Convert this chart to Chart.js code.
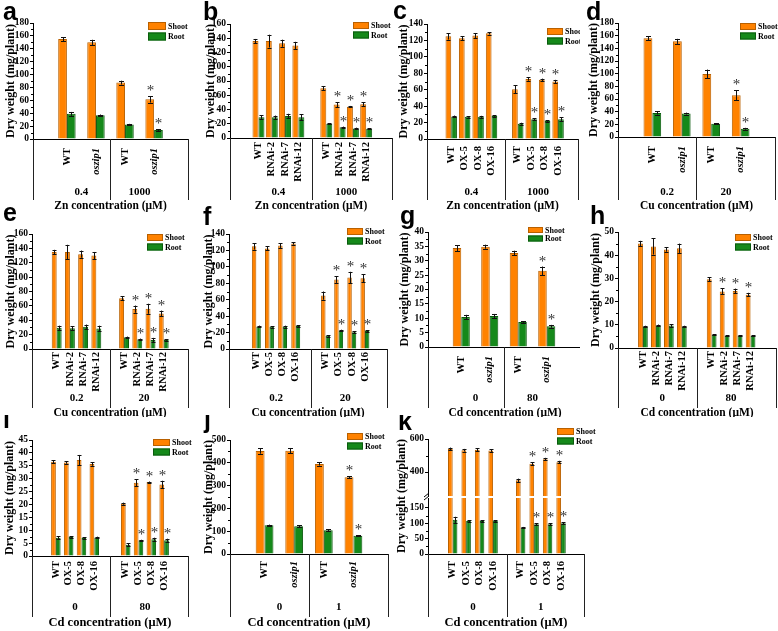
<!DOCTYPE html>
<html>
<head>
<meta charset="utf-8">
<script src="https://cdn.jsdelivr.net/npm/chart.js@4.4.1/dist/chart.umd.min.js"></script>
<style>
  body { margin: 0; background: #fff; width: 778px; height: 631px; position: relative; overflow: hidden; }
  canvas { position: absolute; }
</style>
</head>
<body>
<script>
const SERIF = '"Liberation Serif", "Times New Roman", serif';
const SANS = '"Liberation Sans", Arial, sans-serif';
const SHOOT_FILL = '#ff8200';
const SHOOT_EDGE = '#b86000';
const ROOT_FILL = '#15891a';
const ROOT_EDGE = '#0b5a0e';

// x labels
const zipLabels = ['WT', 'oszip1', 'WT', 'oszip1'];
const rnaiLabels = ['WT', 'RNAi-2', 'RNAi-7', 'RNAi-12', 'WT', 'RNAi-2', 'RNAi-7', 'RNAi-12'];
const oxLabels = ['WT', 'OX-5', 'OX-8', 'OX-16', 'WT', 'OX-5', 'OX-8', 'OX-16'];

// a - Zn, oszip1
const aGroups = ['0.4', '1000'];
const aShoot = [155, 150, 87.5, 61.5];
const aShootErr = [3, 4, 3, 5];
const aRoot = [39, 37, 22.5, 14];
const aRootErr = [3, 1, 1, 1.5];
const aShootSig = [0, 0, 0, 1];
const aRootSig = [0, 0, 0, 1];

// b - Zn, RNAi
const bGroups = ['0.4', '1000'];
const bShoot = [136, 136, 133, 130, 70, 47, 44, 47.5];
const bShootErr = [3, 9, 5, 5, 3, 3.5, 1, 2.5];
const bRoot = [29, 29, 31, 29, 20, 15, 13.5, 13];
const bRootErr = [3, 2.5, 3, 4, 1, 1, 1, 1];
const bShootSig = [0, 0, 0, 0, 0, 1, 1, 1];
const bRootSig = [0, 0, 0, 0, 0, 1, 1, 1];

// c - Zn, OX
const cGroups = ['0.4', '1000'];
const cShoot = [125, 122.6, 126, 128.7, 60.7, 73, 72, 70];
const cShootErr = [4, 2.5, 3, 1.5, 5, 2, 1.5, 2];
const cRoot = [27.5, 27, 27, 28, 18.6, 24, 22, 24];
const cRootErr = [1, 1, 1.2, 1, 1.2, 1, 1, 2.5];
const cShootSig = [0, 0, 0, 0, 0, 1, 1, 1];
const cRootSig = [0, 0, 0, 0, 0, 1, 1, 1];

// d - Cu, oszip1
const dGroups = ['0.2', '20'];
const dShoot = [156, 151, 99.5, 66];
const dShootErr = [3, 4, 7, 8];
const dRoot = [38, 37, 21, 13];
const dRootErr = [2.5, 1.5, 1, 1.5];
const dShootSig = [0, 0, 0, 1];
const dRootSig = [0, 0, 0, 1];

// e - Cu, RNAi
const eGroups = ['0.2', '20'];
const eShoot = [135, 135, 132, 130, 70.5, 55.5, 56, 49.5];
const eShootErr = [3, 10, 5, 5, 3, 5, 7, 4];
const eRoot = [29.5, 29, 31, 28.5, 16.3, 13.5, 12.5, 12.5];
const eRootErr = [3, 3, 3, 4, 1, 1, 3, 1];
const eShootSig = [0, 0, 0, 0, 0, 1, 1, 1];
const eRootSig = [0, 0, 0, 0, 0, 1, 1, 1];

// f - Cu, OX
const fGroups = ['0.2', '20'];
const fShoot = [125, 122.5, 126, 128.5, 65, 84.5, 87, 86];
const fShootErr = [4, 2.5, 3, 1.5, 5, 4, 7, 5];
const fRoot = [27.5, 27, 27.2, 28, 16, 22.5, 20.5, 21.8];
const fRootErr = [1, 1, 1.2, 1, 1, 1, 1, 1];
const fShootSig = [0, 0, 0, 0, 0, 1, 1, 1];
const fRootSig = [0, 0, 0, 0, 0, 1, 1, 1];

// g - Cd, oszip1
const gGroups = ['0', '80'];
const gShoot = [34.4, 34.9, 32.7, 26.5];
const gShootErr = [1, 0.7, 0.8, 1.5];
const gRoot = [10.4, 10.8, 8.7, 7.2];
const gRootErr = [0.8, 0.7, 0.3, 0.5];
const gShootSig = [0, 0, 0, 1];
const gRootSig = [0, 0, 0, 1];

// h - Cd, RNAi
const hGroups = ['0', '80'];
const hShoot = [45, 43.8, 42.5, 43, 29.6, 24.4, 24.6, 23];
const hShootErr = [1.2, 3.5, 1, 2, 0.8, 1.3, 1, 0.8];
const hRoot = [9.3, 9.7, 9.7, 9.3, 5.7, 5.2, 5.4, 5.2];
const hRootErr = [0.3, 0.4, 0.6, 0.3, 0.3, 0.2, 0.2, 0.2];
const hShootSig = [0, 0, 0, 0, 0, 1, 1, 1];
const hRootSig = [0, 0, 0, 0, 0, 0, 0, 0];

// i - Cd, OX
const iGroups = ['0', '80'];
const iShoot = [36.6, 36.3, 37.2, 35.7, 20.3, 28.4, 28.7, 27.7];
const iShootErr = [0.6, 0.5, 2, 0.7, 0.4, 1.3, 0.2, 1.5];
const iRoot = [7.1, 7.4, 7.0, 7.2, 4.4, 6.1, 6.5, 6.1];
const iRootErr = [0.5, 0.3, 0.3, 0.3, 0.5, 0.2, 0.6, 0.6];
const iShootSig = [0, 0, 0, 0, 0, 1, 1, 1];
const iRootSig = [0, 0, 0, 0, 0, 1, 1, 1];

// j - Cd 1 uM, oszip1
const jGroups = ['0', '1'];
const jShoot = [452, 453, 395, 337];
const jShootErr = [12, 12, 7, 5];
const jRoot = [126, 122, 104, 80];
const jRootErr = [3, 5, 4, 2];
const jShootSig = [0, 0, 0, 1];
const jRootSig = [0, 0, 0, 1];

// k - Cd 1 uM, OX (broken axis)
const kGroups = ['0', '1'];
const kShoot = [540, 532, 535, 530, 350, 450, 478, 460];
const kShootErr = [8, 8, 8, 8, 10, 8, 8, 8];
const kRoot = [111, 107, 107, 107, 86, 97, 97, 100];
const kRootErr = [10, 3, 3, 3, 2, 3, 3, 3];
const kShootSig = [0, 0, 0, 0, 0, 1, 1, 1];
const kRootSig = [0, 0, 0, 0, 0, 1, 1, 1];

const ZN = 'Zn concentration (\u03bcM)';
const CU = 'Cu concentration (\u03bcM)';
const CD = 'Cd concentration (\u03bcM)';
const row1 = { groupY: 192, titleY: 206, sepBottom: 200, titleSize: 11.5 };
const row2 = { groupY: 398, titleY: 413, sepBottom: 408, titleSize: 11.5 };
const row3 = { groupY: 607, titleY: 623, sepBottom: 617, titleSize: 12.5 };

function steps(max, step) {
  const t = [];
  for (let v = 0; v <= max + 1e-9; v += step) t.push(v);
  return t;
}

const panels = [
  { letter: 'a', lx: 3, ly: 20, L: 0, T: 0, W: 195, H: 212, x0: 33, x1: 188, y0: 23, y1: 139,
    xmin: -0.5, xmax: 3.5, pos: [0, 1, 2, 3], cat: 0.6, ymax: 180, yticks: steps(180, 20), tickPad: 9,
    labels: zipLabels, groups: aGroups, title: ZN, row: row1, yTitleX: 11, leg: { x: 148, y: 22, w: 18, h: 8 },
    shoot: aShoot, shootErr: aShootErr, root: aRoot, rootErr: aRootErr, shootSig: aShootSig, rootSig: aRootSig },
  { letter: 'b', lx: 203, ly: 20, L: 190, T: 0, W: 205, H: 212, x0: 230, x1: 392, y0: 24, y1: 138,
    xmin: -1.38, xmax: 9.28, pos: [0, 1, 2, 3, 5.1, 6.1, 7.1, 8.1], cat: 0.9, ymax: 160, yticks: steps(160, 20), tickPad: 4,
    labels: rnaiLabels, groups: bGroups, title: ZN, row: row1, yTitleX: 211, leg: { x: 353, y: 22, w: 16, h: 7 },
    shoot: bShoot, shootErr: bShootErr, root: bRoot, rootErr: bRootErr, shootSig: bShootSig, rootSig: bRootSig },
  { letter: 'c', lx: 393, ly: 19, L: 385, T: 0, W: 195, H: 212, x0: 427, x1: 578, y0: 24, y1: 139,
    xmin: -1.1, xmax: 8.73, pos: [0, 1, 2, 3, 4.95, 5.95, 6.95, 7.95], cat: 0.85, ymax: 140, yticks: steps(140, 20), tickPad: 7,
    labels: oxLabels, groups: cGroups, title: ZN, row: row1, yTitleX: 404, leg: { x: 547, y: 28, w: 16, h: 7 },
    shoot: cShoot, shootErr: cShootErr, root: cRoot, rootErr: cRootErr, shootSig: cShootSig, rootSig: cRootSig },
  { letter: 'd', lx: 586, ly: 20, L: 578, T: 0, W: 200, H: 212, x0: 618, x1: 775, y0: 23, y1: 137,
    xmin: -0.5, xmax: 3.5, pos: [0, 1, 2, 3], cat: 0.6, ymax: 180, yticks: steps(180, 20), tickPad: 9,
    labels: zipLabels, groups: dGroups, title: CU, row: row1, yTitleX: 594, leg: { x: 740, y: 23, w: 16, h: 7 },
    shoot: dShoot, shootErr: dShootErr, root: dRoot, rootErr: dRootErr, shootSig: dShootSig, rootSig: dRootSig },
  { letter: 'e', lx: 3, ly: 221, L: 0, T: 205, W: 195, H: 212, x0: 32, x1: 188, y0: 234, y1: 349,
    xmin: -1.13, xmax: 9.2, pos: [0, 1, 2, 3, 5.1, 6.1, 7.1, 8.1], cat: 0.75, ymax: 160, yticks: steps(160, 20), tickPad: 3,
    labels: rnaiLabels, groups: eGroups, title: CU, row: row2, yTitleX: 11, leg: { x: 147, y: 234, w: 16, h: 7 },
    shoot: eShoot, shootErr: eShootErr, root: eRoot, rootErr: eRootErr, shootSig: eShootSig, rootSig: eRootSig },
  { letter: 'f', lx: 203, ly: 225, L: 190, T: 205, W: 200, H: 212, x0: 229, x1: 387, y0: 234, y1: 349,
    xmin: -1.33, xmax: 9.2, pos: [0, 1, 2, 3, 5.27, 6.27, 7.27, 8.27], cat: 0.68, ymax: 140, yticks: steps(140, 20), tickPad: 3,
    labels: oxLabels, groups: fGroups, title: CU, row: row2, yTitleX: 209, leg: { x: 347, y: 228, w: 16, h: 7 },
    shoot: fShoot, shootErr: fShootErr, root: fRoot, rootErr: fRootErr, shootSig: fShootSig, rootSig: fRootSig },
  { letter: 'g', lx: 400, ly: 224, L: 385, T: 205, W: 195, H: 212, x0: 428, x1: 582, y0: 232, y1: 347,
    xmin: -0.5, xmax: 3.5, pos: [0, 1, 2, 3], cat: 0.6, ymax: 40, yticks: steps(40, 5), tickPad: 9,
    labels: zipLabels, groups: gGroups, title: CD, row: row2, yTitleX: 405, leg: { x: 528, y: 227, w: 15, h: 6 },
    shoot: gShoot, shootErr: gShootErr, root: gRoot, rootErr: gRootErr, shootSig: gShootSig, rootSig: gRootSig },
  { letter: 'h', lx: 590, ly: 224, L: 578, T: 205, W: 200, H: 212, x0: 618, x1: 776, y0: 232, y1: 348,
    xmin: -1.16, xmax: 9.5, pos: [0, 1, 2, 3, 5.3, 6.3, 7.3, 8.3], cat: 0.75, ymax: 50, yticks: steps(50, 10), tickPad: 3,
    labels: rnaiLabels, groups: hGroups, title: CD, row: row2, yTitleX: 596, leg: { x: 735, y: 234, w: 16, h: 7 },
    shoot: hShoot, shootErr: hShootErr, root: hRoot, rootErr: hRootErr, shootSig: hShootSig, rootSig: hRootSig },
  { letter: 'i', lx: 3, ly: 428, L: 0, T: 415, W: 195, H: 216, x0: 32, x1: 188, y0: 440, y1: 556,
    xmin: -1.1, xmax: 9.55, pos: [0, 1, 2, 3, 5.45, 6.45, 7.45, 8.45], cat: 0.74, ymax: 45, yticks: steps(45, 5), tickPad: 5,
    labels: oxLabels, groups: iGroups, title: CD, row: row3, yTitleX: 10, leg: { x: 153, y: 439, w: 17, h: 7 },
    shoot: iShoot, shootErr: iShootErr, root: iRoot, rootErr: iRootErr, shootSig: iShootSig, rootSig: iRootSig },
  { letter: 'j', lx: 204, ly: 428, L: 190, T: 415, W: 200, H: 216, x0: 230, x1: 388, y0: 440, y1: 554,
    xmin: -0.5, xmax: 3.5, pos: [0, 1, 2, 3], cat: 0.6, ymax: 500, yticks: steps(500, 100), tickPad: 7,
    labels: zipLabels, groups: jGroups, title: CD, row: row3, yTitleX: 209, leg: { x: 347, y: 433, w: 16, h: 7 },
    shoot: jShoot, shootErr: jShootErr, root: jRoot, rootErr: jRootErr, shootSig: jShootSig, rootSig: jRootSig },
  // k lower part (0 - 182) carries axes decoration
  { letter: 'k', lx: 398, ly: 430, L: 385, T: 415, W: 215, H: 216, x0: 428, x1: 584, y0: 498, y1: 554,
    xmin: -1.11, xmax: 9.03, pos: [0, 1, 2, 3, 5.05, 6.05, 7.05, 8.05], cat: 0.7, ymin: 0, ymax: 182, yticks: [0, 50, 100, 150], tickPad: 7,
    labels: oxLabels, groups: kGroups, title: CD, row: row3, yTitleX: 402, yTitleMid: 496, brk: true, leg: { x: 557, y: 428, w: 17, h: 7 },
    shoot: kShoot, shootErr: kShootErr, root: kRoot, rootErr: kRootErr, shootSig: kShootSig, rootSig: kRootSig },
  // k upper part (255 - 600)
  { overlay: true, L: 385, T: 415, W: 215, H: 216, x0: 428, x1: 584, y0: 439, y1: 496,
    xmin: -1.11, xmax: 9.03, pos: [0, 1, 2, 3, 5.05, 6.05, 7.05, 8.05], cat: 0.7, ymin: 255, ymax: 600, yticks: [400, 600], minor: [500],
    labels: oxLabels,
    shoot: kShoot, shootErr: kShootErr, root: kRoot, rootErr: kRootErr, shootSig: kShootSig, rootSig: kRootSig }
];

function decorate(p) {
  return {
    id: 'decor',
    afterDatasetsDraw(chart) {
      const ctx = chart.ctx;
      const ys = chart.scales.y;
      const cap = p.pos.length > 4 ? 2 : 2.5;
      ctx.save();
      chart.data.datasets.forEach((ds, di) => {
        const meta = chart.getDatasetMeta(di);
        meta.data.forEach((bar, i) => {
          const v = ds.data[i].y, e = ds.err[i];
          if (v > ys.max || v < ys.min) return;
          const x = Math.round(bar.x) + 0.5;
          const top = ys.getPixelForValue(v + e);
          const bot = ys.getPixelForValue(v - e);
          ctx.strokeStyle = '#111';
          ctx.lineWidth = 1;
          ctx.beginPath();
          ctx.moveTo(x, top); ctx.lineTo(x, bot);
          ctx.moveTo(x - cap, Math.round(top) + 0.5); ctx.lineTo(x + cap, Math.round(top) + 0.5);
          ctx.moveTo(x - cap, Math.round(bot) + 0.5); ctx.lineTo(x + cap, Math.round(bot) + 0.5);
          ctx.stroke();
          if (ds.sig[i]) {
            ctx.fillStyle = '#333';
            ctx.font = '15px ' + SERIF;
            ctx.textAlign = 'center';
            ctx.textBaseline = 'alphabetic';
            ctx.fillText('*', x, top - 1);
          }
        });
      });
      ctx.restore();
    },
    afterDraw(chart) {
      const ctx = chart.ctx;
      const xs = chart.scales.x, ys = chart.scales.y;
      const L = p.L, T = p.T;
      const ax = p.x0 - L;
      ctx.save();
      ctx.strokeStyle = '#000';
      ctx.lineWidth = 1;
      // minor ticks on y
      const minor = p.minor || p.yticks.slice(1).map((v, i) => (v + p.yticks[i]) / 2);
      ctx.beginPath();
      minor.forEach(v => {
        const y = Math.round(ys.getPixelForValue(v)) + 0.5;
        ctx.moveTo(ax - 2, y); ctx.lineTo(ax, y);
      });
      ctx.stroke();
      if (p.overlay) { ctx.restore(); return; }

      // panel letter
      ctx.fillStyle = '#000';
      ctx.font = 'bold 25px ' + SANS;
      ctx.textAlign = 'left';
      ctx.textBaseline = 'alphabetic';
      ctx.fillText(p.letter, p.lx - L, p.ly - T);

      // y title
      ctx.save();
      ctx.translate(p.yTitleX - L, (p.yTitleMid || (p.y0 + p.y1) / 2) - T);
      ctx.rotate(-Math.PI / 2);
      ctx.font = 'bold 12px ' + SERIF;
      ctx.textAlign = 'center';
      ctx.textBaseline = 'middle';
      ctx.fillText('Dry weight (mg/plant)', 0, 0);
      ctx.restore();

      // legend
      const lg = p.leg;
      [['Shoot', SHOOT_FILL, SHOOT_EDGE], ['Root', ROOT_FILL, ROOT_EDGE]].forEach((it, k) => {
        const bx = lg.x - L, by = lg.y - T + k * (lg.h + 2.5);
        ctx.fillStyle = it[1];
        ctx.fillRect(bx, by, lg.w, lg.h);
        ctx.strokeStyle = it[2];
        ctx.strokeRect(bx + 0.5, by + 0.5, lg.w - 1, lg.h - 1);
        ctx.fillStyle = '#000';
        ctx.font = 'bold 8px ' + SERIF;
        ctx.textAlign = 'left';
        ctx.textBaseline = 'middle';
        ctx.fillText(it[0], bx + lg.w + 2, by + lg.h / 2 + 0.5);
      });

      // group separators under the x axis
      const n = p.pos.length;
      const base = p.y1 - T;
      const bottom = p.row.sepBottom - T;
      const sepX = xs.getPixelForValue((p.pos[n / 2 - 1] + p.pos[n / 2]) / 2);
      ctx.strokeStyle = '#222';
      ctx.beginPath();
      [ax, sepX, p.x1 - L].forEach(x => {
        const xx = Math.round(x) + 0.5;
        ctx.moveTo(xx, base); ctx.lineTo(xx, bottom);
      });
      ctx.stroke();

      // group labels
      ctx.fillStyle = '#000';
      ctx.font = 'bold 11px ' + SERIF;
      ctx.textAlign = 'center';
      ctx.textBaseline = 'middle';
      [p.pos.slice(0, n / 2), p.pos.slice(n / 2)].forEach((g, k) => {
        const cx = g.reduce((s, v) => s + xs.getPixelForValue(v), 0) / g.length;
        ctx.fillText(p.groups[k], cx, p.row.groupY - T);
      });

      // x title
      ctx.font = 'bold ' + p.row.titleSize + 'px ' + SERIF;
      ctx.fillText(p.title, (p.x0 + p.x1) / 2 - L, p.row.titleY - T);

      // axis break marks
      if (p.brk) {
        ctx.strokeStyle = '#000';
        ctx.beginPath();
        ctx.moveTo(ax - 4, 497 - T); ctx.lineTo(ax + 1, 493 - T);
        ctx.moveTo(ax - 4, 500 - T); ctx.lineTo(ax + 1, 496 - T);
        ctx.stroke();
      }
      ctx.restore();
    }
  };
}

function makePanel(p) {
  const canvas = document.createElement('canvas');
  canvas.width = p.W;
  canvas.height = p.H;
  canvas.style.left = p.L + 'px';
  canvas.style.top = p.T + 'px';
  canvas.style.width = p.W + 'px';
  canvas.style.height = p.H + 'px';
  document.body.appendChild(canvas);

  const italic = c => ({ family: SERIF, size: 10.5, weight: 'bold',
    style: p.labels[c.index] === 'oszip1' ? 'italic' : 'normal' });

  return new Chart(canvas.getContext('2d'), {
    type: 'bar',
    data: {
      datasets: [
        { label: 'Shoot', data: p.pos.map((x, i) => ({ x: x, y: p.shoot[i] })), err: p.shootErr, sig: p.shootSig,
          backgroundColor: SHOOT_FILL, borderColor: SHOOT_EDGE, borderWidth: 1 },
        { label: 'Root', data: p.pos.map((x, i) => ({ x: x, y: p.root[i] })), err: p.rootErr, sig: p.rootSig,
          backgroundColor: ROOT_FILL, borderColor: ROOT_EDGE, borderWidth: 1 }
      ]
    },
    options: {
      responsive: false,
      animation: false,
      devicePixelRatio: 1,
      events: [],
      categoryPercentage: p.cat,
      barPercentage: 1,
      layout: { padding: { left: 0, top: p.y0 - p.T, right: p.L + p.W - p.x1, bottom: p.overlay ? p.T + p.H - p.y1 : 0 } },
      plugins: { legend: { display: false }, tooltip: { enabled: false } },
      scales: {
        x: {
          type: 'linear',
          display: !p.overlay,
          min: p.xmin,
          max: p.xmax,
          grid: { display: false, drawTicks: false },
          border: { color: '#000', width: 1 },
          afterBuildTicks: s => { s.ticks = p.pos.map(v => ({ value: v })); },
          afterFit: s => { s.height = p.overlay ? 0 : p.T + p.H - p.y1; s.paddingLeft = 0; s.paddingRight = 0; },
          ticks: {
            autoSkip: false, minRotation: 90, maxRotation: 90, padding: p.tickPad || 5, color: '#000',
            callback: (v, i) => p.labels[i],
            font: italic
          }
        },
        y: {
          min: p.ymin || 0,
          max: p.ymax,
          afterBuildTicks: s => { s.ticks = p.yticks.map(v => ({ value: v })); },
          afterFit: s => { s.width = p.x0 - p.L; s.paddingTop = 0; s.paddingBottom = 0; },
          grid: { drawOnChartArea: false, drawTicks: true, tickLength: 3, color: '#000', tickColor: '#000' },
          border: { color: '#000', width: 1 },
          ticks: { autoSkip: false, padding: 1, color: '#000', font: { family: SERIF, size: 9.5, weight: 'bold' } }
        }
      }
    },
    plugins: [decorate(p)]
  });
}

panels.forEach(makePanel);
</script>
</body>
</html>
